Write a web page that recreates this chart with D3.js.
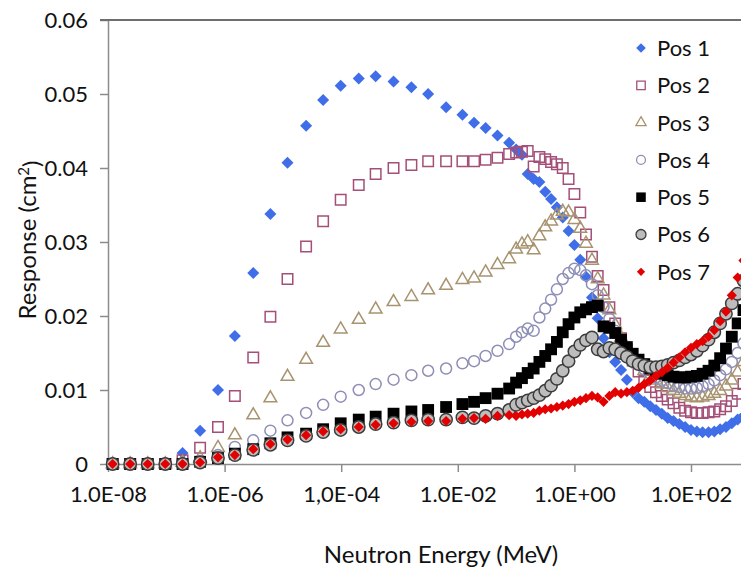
<!DOCTYPE html>
<html>
<head>
<meta charset="utf-8">
<script src="https://cdn.jsdelivr.net/npm/d3@7"></script>
<style>
body{margin:0;background:#fff;}
svg{display:block;font-family:Lato,"Open Sans",sans-serif;}
</style>
</head>
<body>
<svg></svg>
<script>

// neutron energy (MeV) of each point
var energy = [
  1.2e-8, 2.4e-8, 4.8e-8, 9.6e-8, 1.9e-7, 3.8e-7, 7.7e-7, 1.5e-6, 3.1e-6, 6.1e-6,
  1.2e-5, 2.5e-5, 4.9e-5, 9.8e-5, 2.0e-4, 3.9e-4, 7.9e-4, 1.6e-3, 3.1e-3, 6.3e-3,
  1.2e-2, 1.9e-2, 3.0e-2, 4.8e-2, 7.6e-2,
  0.100, 0.126, 0.158, 0.200, 0.251, 0.316, 0.398, 0.501, 0.631, 0.794,
  1.00, 1.26, 1.58, 2.00, 2.51, 3.16, 3.98, 5.01, 6.31, 7.94,
  10.0, 12.6, 15.8, 20.0, 25.1, 31.6, 39.8, 50.1, 63.1, 79.4,
  100, 126, 158, 200, 251, 316, 398, 501, 631, 794
];

var pos1 = [
  0, 0, 0, 0, 0.0015, 0.0045, 0.0100, 0.0173, 0.0258, 0.0338,
  0.0407, 0.0457, 0.0492, 0.0511, 0.0521, 0.0524, 0.0517, 0.0509, 0.0500, 0.0482,
  0.0472, 0.0461, 0.0454, 0.0444, 0.0434,
  0.0425, 0.0418, 0.0392, 0.0385, 0.0381, 0.0368, 0.0358, 0.0347, 0.0333, 0.0315,
  0.0296, 0.0276, 0.0253, 0.0225, 0.0197, 0.0170, 0.0151, 0.0138, 0.0127, 0.0114,
  0.0097, 0.0089, 0.0084, 0.0078, 0.0073, 0.0068, 0.0062, 0.0058, 0.0054, 0.0050,
  0.0046, 0.0044, 0.0043, 0.0043, 0.0044, 0.0047, 0.0050, 0.0055, 0.0060, 0.0065
];

var pos2 = [
  0, 0, 0, 0, 0.0005, 0.0022, 0.0050, 0.0092, 0.0144, 0.0199,
  0.0250, 0.0294, 0.0328, 0.0357, 0.0377, 0.0392, 0.0400, 0.0404, 0.0409, 0.0409,
  0.0409, 0.0409, 0.0411, 0.0414, 0.0419,
  0.0421, 0.0422, 0.0423, 0.0402, 0.0415, 0.0412, 0.0408, 0.0405, 0.0400, 0.0385,
  0.0365, 0.0340, 0.0310, 0.0280, 0.0254, 0.0235, 0.0212, 0.0190, 0.0170, 0.0155,
  0.0140, 0.0125, 0.0113, 0.0104, 0.0097, 0.0092, 0.0087, 0.0082, 0.0076, 0.0072,
  0.0070, 0.0069, 0.0069, 0.0070, 0.0071, 0.0074, 0.0078, 0.0085, 0.0095, 0.0108
];

var pos3 = [
  0, 0, 0, 0, 0.0002, 0.0008, 0.0022, 0.0039, 0.0066, 0.0089,
  0.0118, 0.0141, 0.0164, 0.0182, 0.0195, 0.0209, 0.0219, 0.0226, 0.0235, 0.0241,
  0.0249, 0.0251, 0.0259, 0.0269, 0.0277,
  0.0290, 0.0297, 0.0300, 0.0289, 0.0308, 0.0320, 0.0328, 0.0336, 0.0341, 0.0340,
  0.0330, 0.0318, 0.0298, 0.0275, 0.0250, 0.0228, 0.0208, 0.0188, 0.0171, 0.0157,
  0.0145, 0.0135, 0.0126, 0.0119, 0.0113, 0.0108, 0.0103, 0.0099, 0.0095, 0.0092,
  0.0090, 0.0089, 0.0090, 0.0092, 0.0095, 0.0099, 0.0105, 0.0113, 0.0124, 0.0138
];

var pos4 = [
  0, 0, 0, 0, 0, 0.0004, 0.0012, 0.0023, 0.0032, 0.0045,
  0.0059, 0.0069, 0.0080, 0.0091, 0.0100, 0.0108, 0.0114, 0.0120, 0.0126, 0.0129,
  0.0136, 0.0139, 0.0146, 0.0153, 0.0162,
  0.0172, 0.0178, 0.0183, 0.0180, 0.0198, 0.0210, 0.0222, 0.0236, 0.0250, 0.0258,
  0.0264, 0.0262, 0.0255, 0.0243, 0.0228, 0.0212, 0.0196, 0.0180, 0.0166, 0.0154,
  0.0143, 0.0135, 0.0128, 0.0122, 0.0117, 0.0113, 0.0109, 0.0106, 0.0104, 0.0102,
  0.0102, 0.0103, 0.0105, 0.0108, 0.0113, 0.0120, 0.0128, 0.0138, 0.0150, 0.0163
];

var pos5 = [
  0, 0, 0, 0, 0, 0.0003, 0.0008, 0.0014, 0.0020, 0.0028,
  0.0036, 0.0041, 0.0047, 0.0055, 0.0060, 0.0064, 0.0068, 0.0071, 0.0073, 0.0077,
  0.0081, 0.0084, 0.0089, 0.0095, 0.0102,
  0.0110, 0.0116, 0.0123, 0.0129, 0.0138, 0.0146, 0.0155, 0.0165, 0.0178, 0.0189,
  0.0198, 0.0205, 0.0209, 0.0212, 0.0214, 0.0186, 0.0184, 0.0177, 0.0168, 0.0158,
  0.0149, 0.0141, 0.0135, 0.0129, 0.0125, 0.0122, 0.0120, 0.0118, 0.0117, 0.0117,
  0.0118, 0.0119, 0.0122, 0.0126, 0.0133, 0.0143, 0.0156, 0.0172, 0.0190, 0.0208
];

var pos6 = [
  0, 0, 0, 0, 0, 0.0002, 0.0008, 0.0012, 0.0019, 0.0026,
  0.0032, 0.0038, 0.0043, 0.0046, 0.0050, 0.0054, 0.0056, 0.0059, 0.0060, 0.0060,
  0.0063, 0.0062, 0.0065, 0.0068, 0.0073,
  0.0080, 0.0083, 0.0086, 0.0089, 0.0093, 0.0099, 0.0106, 0.0115, 0.0126, 0.0139,
  0.0152, 0.0161, 0.0167, 0.0171, 0.0155, 0.0152, 0.0157, 0.0155, 0.0150, 0.0145,
  0.0139, 0.0135, 0.0133, 0.0131, 0.0131, 0.0132, 0.0134, 0.0137, 0.0140, 0.0144,
  0.0148, 0.0153, 0.0160, 0.0168, 0.0178, 0.0190, 0.0203, 0.0217, 0.0230, 0.0248
];

var pos7 = [
  0, 0, 0, 0, 0, 0.0002, 0.0009, 0.0012, 0.0020, 0.0027,
  0.0033, 0.0039, 0.0044, 0.0047, 0.0050, 0.0053, 0.0055, 0.0057, 0.0058, 0.0058,
  0.0061, 0.0062, 0.0061, 0.0065, 0.0066,
  0.0065, 0.0067, 0.0068, 0.0069, 0.0072, 0.0074, 0.0075, 0.0077, 0.0079, 0.0081,
  0.0084, 0.0086, 0.0089, 0.0092, 0.0090, 0.0084, 0.0092, 0.0097, 0.0095, 0.0097,
  0.0099, 0.0103, 0.0108, 0.0113, 0.0119, 0.0124, 0.0130, 0.0137, 0.0144, 0.0151,
  0.0157, 0.0162, 0.0166, 0.0172, 0.0181, 0.0193, 0.0206, 0.0228, 0.0252, 0.0275
];

var seriesNames = ["Pos 1", "Pos 2", "Pos 3", "Pos 4", "Pos 5", "Pos 6", "Pos 7"];
var xTicks = [1e-8, 1e-6, 1e-4, 1e-2, 1, 1e2];
var xLabels = ["1.0E-08", "1.0E-06", "1,0E-04", "1.0E-02", "1.0E+00", "1.0E+02"];
var yTicks = [0, 0.01, 0.02, 0.03, 0.04, 0.05, 0.06];
var yLabels = ["0", "0.01", "0.02", "0.03", "0.04", "0.05", "0.06"];

startChart([pos1, pos2, pos3, pos4, pos5, pos6, pos7]);

function startChart(values){
  var width = 741;
  var height = 572;
  var left = 108, top = 20, bottom = 464;
  var decade = 58.3;

  var svg = d3.select("svg")
              .attr("width", width)
              .attr("height", height);

  var xScale = d3.scaleLog()
                 .domain([1e-8, 1e4])
                 .range([left, left + 12 * decade]);
  var yScale = d3.scaleLinear()
                 .domain([0, 0.06])
                 .range([bottom, top]);

  // marker look for each position
  var styles = [
    {type: "diamond", size: 72, fill: "#3f6ee8", stroke: "none"},
    {type: "square", size: 110, fill: "none", stroke: "#a44f78"},
    {type: "triangle", size: 70, fill: "none", stroke: "#a8936f"},
    {type: "circle", size: 95, fill: "none", stroke: "#8e8fb6"},
    {type: "square", size: 140, fill: "#000000", stroke: "none"},
    {type: "circle", size: 120, fill: "#bdbdbd", stroke: "#3c3c3c"},
    {type: "diamond", size: 52, fill: "#e30000", stroke: "none"}
  ];

  function shape(st, scale){
    var t = st.type === "circle" ? d3.symbolCircle
          : st.type === "triangle" ? d3.symbolTriangle
          : d3.symbolSquare;
    return d3.symbol().type(t).size(st.size * scale)();
  }
  function rot(st){
    return st.type === "diamond" ? " rotate(45)" : "";
  }

  // axes
  var yAxis = d3.axisLeft(yScale)
                .tickValues(yTicks)
                .tickFormat(function(d, i){ return yLabels[i]; })
                .tickSize(8)
                .tickSizeOuter(0)
                .tickPadding(12);
  var gy = svg.append("g")
              .attr("transform", "translate(" + left + ",0)")
              .call(yAxis);

  var xAxis = d3.axisBottom(xScale)
                .tickValues(xTicks)
                .tickFormat(function(d, i){ return xLabels[i]; })
                .tickSize(8)
                .tickSizeOuter(0)
                .tickPadding(14);
  var gx = svg.append("g")
              .attr("transform", "translate(0," + bottom + ")")
              .call(xAxis);

  svg.selectAll(".domain, .tick line")
     .attr("stroke", "#8c8c8c")
     .attr("stroke-width", 1.5);
  svg.selectAll(".tick text")
     .attr("fill", "#111")
     .style("font-size", "22px")
     .style("font-family", "Lato, 'Open Sans', sans-serif");

  // top frame line
  svg.append("line")
     .attr("x1", left - 8).attr("x2", width)
     .attr("y1", top).attr("y2", top)
     .attr("stroke", "#6e6e6e")
     .attr("stroke-width", 2);

  // markers
  values.forEach(function(vals, s){
    var st = styles[s];
    var pts = energy.map(function(e, i){ return {e: e, v: vals[i]}; })
                    .filter(function(d){ return d.v != null; });
    svg.append("g")
       .selectAll("path")
       .data(pts)
       .enter()
       .append("path")
       .attr("d", shape(st, 1))
       .attr("transform", function(d){
         return "translate(" + xScale(d.e) + "," + yScale(d.v) + ")" + rot(st);
       })
       .attr("fill", st.fill)
       .attr("stroke", st.stroke)
       .attr("stroke-width", 1.5);
  });

  // legend
  var leg = svg.append("g")
               .attr("transform", "translate(641,48)");
  seriesNames.forEach(function(name, i){
    var st = styles[i];
    var row = leg.append("g")
                 .attr("transform", "translate(0," + (i * 37.3) + ")");
    row.append("path")
       .attr("d", shape(st, 0.65))
       .attr("transform", "translate(0,0)" + rot(st))
       .attr("fill", st.fill)
       .attr("stroke", st.stroke)
       .attr("stroke-width", 1.3);
    row.append("text")
       .attr("x", 16)
       .attr("dy", "0.36em")
       .style("font-size", "22px")
       .attr("fill", "#111")
       .text(name);
  });

  // axis titles
  svg.append("text")
     .attr("x", 441)
     .attr("y", 563)
     .attr("text-anchor", "middle")
     .style("font-size", "24px")
     .attr("fill", "#111")
     .text("Neutron Energy (MeV)");

  var yt = svg.append("text")
              .attr("transform", "translate(36,240) rotate(-90)")
              .attr("text-anchor", "middle")
              .style("font-size", "24px")
              .attr("fill", "#111");
  yt.append("tspan").text("Response (cm");
  yt.append("tspan").attr("dy", "-0.45em").style("font-size", "15px").text("2");
  yt.append("tspan").attr("dy", "0.45em").text(")");
}
</script>
</body>
</html>
